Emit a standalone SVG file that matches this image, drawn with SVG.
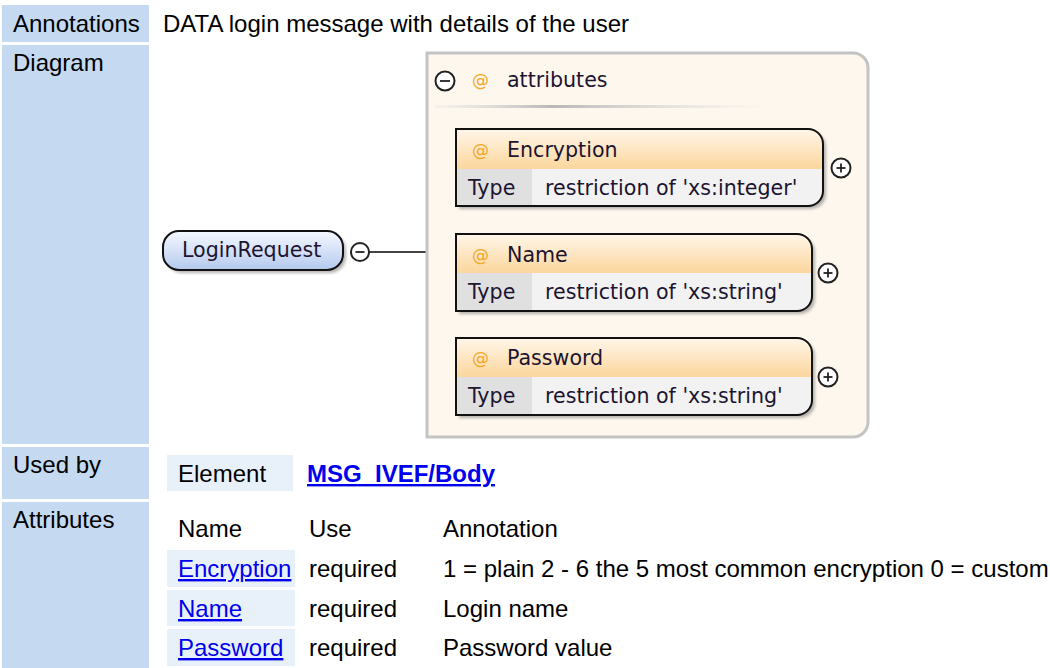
<svg xmlns="http://www.w3.org/2000/svg" width="1050" height="668" viewBox="0 0 1050 668">
<style>
.hdr{fill:#c5d9f1}
.cell{fill:#e8f0fa}
.t{font-family:"Liberation Sans",Arial,sans-serif;font-size:24px;fill:#000}
.lnk{font-family:"Liberation Sans",Arial,sans-serif;font-size:24px;fill:#0000ee;text-decoration:underline}
.d{font-family:"DejaVu Sans","Lucida Sans",sans-serif;font-size:20.6px;fill:#1c1430}
.at{font-family:"DejaVu Sans",sans-serif;font-size:17px;fill:#f5a623}
.box{fill:none;stroke:#111;stroke-width:2}
.shadow{fill:#777;opacity:0.55}
.typecell{fill:#e0e0e0}
.valcell{fill:#f2f2f2}
.btn{fill:#fff;stroke:#222;stroke-width:2}
.sign{stroke:#222;stroke-width:1.8}
</style>
<defs>
<linearGradient id="gHead" x1="0" y1="0" x2="0" y2="1">
<stop offset="0" stop-color="#fff6ea"/>
<stop offset="1" stop-color="#fcd69c"/>
</linearGradient>
<linearGradient id="gNode" x1="0" y1="0" x2="0" y2="1">
<stop offset="0" stop-color="#f6f9ff"/>
<stop offset="1" stop-color="#b4c9ee"/>
</linearGradient>
<linearGradient id="gSep" x1="0" y1="0" x2="1" y2="0">
<stop offset="0" stop-color="#d8d8d8" stop-opacity="0.2"/>
<stop offset="0.35" stop-color="#b8b8b8"/>
<stop offset="1" stop-color="#d8d8d8" stop-opacity="0"/>
</linearGradient>
<filter id="blur" x="-10%" y="-10%" width="120%" height="130%">
<feGaussianBlur stdDeviation="1.5"/>
</filter>
</defs>

<!-- left header cells -->
<g id="row-annotations">
<rect class="hdr" x="2" y="5" width="147" height="37"/>
<text class="t" x="13" y="32">Annotations</text>
<text class="t" x="163" y="32">DATA login message with details of the user</text>
</g>
<g id="row-diagram">
<rect class="hdr" x="2" y="45" width="147" height="399"/>
<text class="t" x="13" y="71">Diagram</text>
</g>
<g id="row-usedby">
<rect class="hdr" x="2" y="447" width="147" height="52"/>
<text class="t" x="13" y="473">Used by</text>
<rect class="cell" x="167" y="455" width="126" height="36"/>
<text class="t" x="178" y="482">Element</text>
<text class="lnk" x="307" y="482" font-weight="bold">MSG_IVEF/Body</text>
</g>
<g id="row-attributes">
<rect class="hdr" x="2" y="502" width="147" height="166"/>
<text class="t" x="13" y="528">Attributes</text>
<text class="t" x="178" y="537">Name</text>
<text class="t" x="309" y="537">Use</text>
<text class="t" x="443" y="537">Annotation</text>
<rect class="cell" x="167" y="550" width="128" height="37"/>
<text class="lnk" x="178" y="577">Encryption</text>
<text class="t" x="309" y="577">required</text>
<text class="t" x="443" y="577">1 = plain 2 - 6 the 5 most common encryption 0 = custom</text>
<rect class="cell" x="167" y="590" width="128" height="36"/>
<text class="lnk" x="178" y="617">Name</text>
<text class="t" x="309" y="617">required</text>
<text class="t" x="443" y="617">Login name</text>
<rect class="cell" x="167" y="629" width="128" height="37"/>
<text class="lnk" x="178" y="656">Password</text>
<text class="t" x="309" y="656">required</text>
<text class="t" x="443" y="656">Password value</text>
</g>

<!-- connectors -->
<g id="connectors">
<line x1="369" y1="252" x2="427" y2="252" stroke="#444" stroke-width="2"/>
</g>

<!-- attributes group box -->
<g id="attributes-group">
<path d="M427,53 H853 A15,15 0 0 1 868,68 V422 A15,15 0 0 1 853,437 H427 Z" fill="#fdf7ee" stroke="#c4c4c4" stroke-width="3"/>
<circle class="btn" cx="445" cy="81" r="9.5" fill="none"/>
<line class="sign" x1="440" y1="81" x2="450" y2="81"/>
<text class="at" x="472" y="86">@</text>
<text class="d" x="507" y="87">attributes</text>
<rect x="435" y="105" width="335" height="3" fill="url(#gSep)"/>
</g>

<!-- LoginRequest node -->
<g id="node-LoginRequest">
<rect x="166" y="234" width="180" height="39" rx="16" class="shadow" filter="url(#blur)"/>
<rect x="163" y="231" width="180" height="39" rx="16" fill="url(#gNode)" stroke="#111" stroke-width="2"/>
<text class="d" x="182" y="257">LoginRequest</text>
<circle class="btn" cx="360" cy="252" r="9"/>
<line class="sign" x1="355.5" y1="252" x2="364.5" y2="252"/>
</g>

<!-- Encryption -->
<g id="node-Encryption">
<path class="shadow" filter="url(#blur)" d="M459,132 H811 A15,15 0 0 1 826,147 V194 A15,15 0 0 1 811,209 H459 Z"/>
<path fill="url(#gHead)" d="M456,129 H808 A15,15 0 0 1 823,144 V169 H456 Z"/>
<rect class="typecell" x="456" y="169" width="76" height="37"/>
<path class="valcell" d="M532,169 H823 V191 A15,15 0 0 1 808,206 H532 Z"/>
<path class="box" d="M456,129 H808 A15,15 0 0 1 823,144 V191 A15,15 0 0 1 808,206 H456 Z"/>
<text class="at" x="472" y="156">@</text>
<text class="d" x="507" y="157">Encryption</text>
<text class="d" x="468" y="195">Type</text>
<text class="d" x="545" y="195">restriction of 'xs:integer'</text>
<circle class="btn" cx="841" cy="168" r="9.5"/>
<line class="sign" x1="836.5" y1="168" x2="845.5" y2="168"/>
<line class="sign" x1="841" y1="163.5" x2="841" y2="172.5"/>
</g>

<!-- Name -->
<g id="node-Name">
<path class="shadow" filter="url(#blur)" d="M459,237 H800 A15,15 0 0 1 815,252 V299 A15,15 0 0 1 800,314 H459 Z"/>
<path fill="url(#gHead)" d="M456,234 H797 A15,15 0 0 1 812,249 V273 H456 Z"/>
<rect class="typecell" x="456" y="273" width="76" height="38"/>
<path class="valcell" d="M532,273 H812 V296 A15,15 0 0 1 797,311 H532 Z"/>
<path class="box" d="M456,234 H797 A15,15 0 0 1 812,249 V296 A15,15 0 0 1 797,311 H456 Z"/>
<text class="at" x="472" y="261">@</text>
<text class="d" x="507" y="262">Name</text>
<text class="d" x="468" y="299">Type</text>
<text class="d" x="545" y="299">restriction of 'xs:string'</text>
<circle class="btn" cx="828" cy="273" r="9.5"/>
<line class="sign" x1="823.5" y1="273" x2="832.5" y2="273"/>
<line class="sign" x1="828" y1="268.5" x2="828" y2="277.5"/>
</g>

<!-- Password -->
<g id="node-Password">
<path class="shadow" filter="url(#blur)" d="M459,341 H800 A15,15 0 0 1 815,356 V403 A15,15 0 0 1 800,418 H459 Z"/>
<path fill="url(#gHead)" d="M456,338 H797 A15,15 0 0 1 812,353 V377 H456 Z"/>
<rect class="typecell" x="456" y="377" width="76" height="38"/>
<path class="valcell" d="M532,377 H812 V400 A15,15 0 0 1 797,415 H532 Z"/>
<path class="box" d="M456,338 H797 A15,15 0 0 1 812,353 V400 A15,15 0 0 1 797,415 H456 Z"/>
<text class="at" x="472" y="364">@</text>
<text class="d" x="507" y="365">Password</text>
<text class="d" x="468" y="403">Type</text>
<text class="d" x="545" y="403">restriction of 'xs:string'</text>
<circle class="btn" cx="828" cy="377" r="9.5"/>
<line class="sign" x1="823.5" y1="377" x2="832.5" y2="377"/>
<line class="sign" x1="828" y1="372.5" x2="828" y2="381.5"/>
</g>
</svg>
